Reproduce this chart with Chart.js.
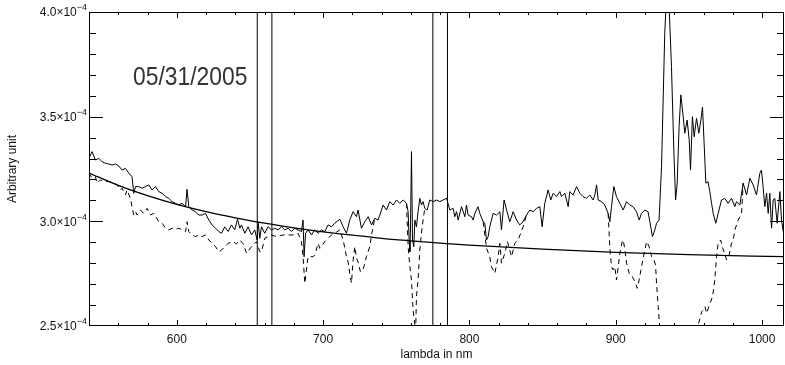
<!DOCTYPE html>
<html>
<head>
<meta charset="utf-8">
<script src="https://cdn.jsdelivr.net/npm/chart.js@4.4.1/dist/chart.umd.min.js"></script>
<style>
  html, body { margin: 0; padding: 0; background: #fff; }
</style>
</head>
<body>
<canvas id="spectrum" width="785" height="365"></canvas>
<script>
// wavelengths in nm, intensities in units of 1e-4 (axis labels carry the x10^-4)
const solidNm = [
  539.9, 542.1, 544.4, 546.7, 548.9, 551.3, 553.5, 555.8, 558.1, 560.4,
  562.6, 564.9, 567.2, 569.4, 570.6, 571.8, 574.0, 576.3, 578.6, 580.9,
  583.1, 585.4, 587.7, 590.0, 592.3, 594.5, 596.8, 599.1, 601.4, 603.6,
  606.0, 607.0, 608.2, 610.5, 612.8, 615.0, 617.3, 619.6, 621.9, 624.1,
  626.5, 628.7, 630.6, 632.8, 635.1, 637.4, 639.6, 641.5, 643.1, 644.2,
  646.5, 648.7, 651.1, 653.3, 654.9, 655.6, 656.7, 657.9, 660.1, 662.4,
  664.7, 667.0, 669.2, 671.6, 673.8, 676.1, 678.4, 680.7, 682.9, 685.2,
  686.3, 687.0, 688.0, 689.7, 692.1, 694.3, 696.6, 698.9, 701.2, 703.4,
  705.7, 708.0, 711.4, 713.7, 716.0, 718.2, 720.5, 722.8, 723.9, 726.2,
  728.5, 730.8, 733.1, 735.3, 737.6, 739.9, 741.0, 743.3, 745.6, 747.8,
  750.2, 752.4, 754.7, 757.0, 758.1, 758.8, 759.3, 759.7, 760.4, 761.1,
  762.0, 762.7, 763.8, 764.9, 766.1, 767.2, 768.3, 769.5, 771.1, 772.9,
  775.2, 777.5, 779.8, 782.0, 784.3, 785.4, 786.6, 788.9, 790.0, 791.2,
  792.3, 794.6, 796.9, 798.0, 799.1, 801.4, 802.5, 803.7, 805.9, 807.1,
  809.4, 810.5, 811.7, 812.8, 813.9, 816.2, 818.5, 820.8, 821.9, 823.7,
  825.4, 827.6, 829.9, 832.2, 834.4, 836.7, 839.0, 841.3, 843.5, 845.9,
  848.1, 849.7, 851.5, 853.8, 855.6, 857.2, 859.5, 861.8, 862.9, 865.2,
  867.5, 868.6, 870.9, 873.2, 875.5, 877.7, 880.0, 882.3, 884.5, 885.7,
  886.9, 888.0, 890.3, 892.5, 894.8, 896.0, 897.1, 898.7, 900.5, 902.8,
  905.1, 907.4, 909.6, 911.9, 914.2, 916.0, 917.6, 919.9, 922.1, 923.3,
  925.1, 926.7, 927.9, 929.6, 931.3, 932.4, 933.5, 934.6, 936.3, 938.1,
  939.7, 940.9, 942.0, 943.3, 944.5, 946.1, 947.2, 948.8, 950.2, 951.1,
  952.4, 953.6, 955.2, 956.8, 958.2, 959.3, 960.4, 961.6, 963.1, 964.3,
  965.5, 966.6, 968.4, 970.0, 972.3, 974.5, 976.8, 979.1, 981.4, 982.5,
  984.8, 987.1, 989.4, 991.7, 993.9, 996.2, 998.5, 999.6, 1000.7, 1001.9,
  1003.1, 1004.2, 1005.3, 1006.5, 1007.6, 1008.7, 1010.3, 1012.2, 1013.3, 1014.9,
  1016.3
];
const solidVal = [
  3.301, 3.333, 3.293, 3.301, 3.285, 3.277, 3.274, 3.269, 3.274, 3.264,
  3.245, 3.253, 3.230, 3.213, 3.134, 3.166, 3.166, 3.158, 3.166, 3.174,
  3.150, 3.166, 3.142, 3.134, 3.118, 3.110, 3.094, 3.086, 3.078, 3.086,
  3.070, 3.153, 3.070, 3.054, 3.046, 3.030, 3.030, 3.038, 3.006, 2.983,
  2.967, 2.951, 2.943, 2.974, 2.951, 2.983, 2.959, 3.010, 2.967, 2.983,
  2.943, 2.974, 2.935, 2.959, 2.911, 2.998, 2.919, 2.974, 2.943, 2.974,
  2.959, 2.967, 2.959, 2.974, 2.959, 2.967, 2.951, 2.967, 2.959, 2.951,
  3.006, 2.831, 2.943, 2.959, 2.935, 2.959, 2.943, 2.959, 2.951, 2.983,
  2.974, 2.991, 3.010, 2.974, 2.943, 3.006, 3.046, 3.022, 3.054, 2.967,
  2.998, 3.022, 2.983, 3.015, 3.006, 3.054, 3.078, 3.054, 3.094, 3.078,
  3.102, 3.086, 3.102, 3.086, 3.046, 2.911, 2.855, 2.959, 3.333, 2.911,
  2.879, 3.006, 2.974, 3.046, 3.110, 3.078, 3.094, 3.062, 3.054, 3.102,
  3.094, 3.102, 3.094, 3.102, 3.110, 3.086, 3.054, 3.062, 3.022, 3.046,
  3.006, 3.070, 3.022, 3.078, 3.030, 3.022, 3.006, 3.038, 3.070, 3.038,
  2.998, 2.991, 2.911, 2.927, 2.974, 3.038, 3.030, 3.046, 2.959, 3.102,
  3.054, 2.998, 3.046, 3.006, 2.983, 2.998, 3.030, 3.054, 3.046, 3.062,
  3.070, 2.974, 3.086, 3.150, 3.102, 3.134, 3.118, 3.142, 3.118, 3.134,
  3.070, 3.142, 3.126, 3.166, 3.134, 3.118, 3.110, 3.126, 3.102, 3.126,
  3.174, 3.102, 3.094, 3.078, 3.038, 2.998, 3.070, 3.166, 3.118, 3.086,
  3.054, 3.094, 3.078, 3.070, 3.046, 3.006, 3.038, 3.054, 3.046, 2.998,
  2.927, 2.959, 2.991, 3.006, 3.261, 3.580, 3.899, 4.060, 4.060, 3.739,
  3.341, 3.102, 3.182, 3.452, 3.604, 3.500, 3.421, 3.484, 3.389, 3.245,
  3.500, 3.404, 3.492, 3.421, 3.484, 3.545, 3.373, 3.182, 3.190, 3.142,
  3.086, 3.038, 2.991, 3.038, 3.102, 3.110, 3.086, 3.110, 3.070, 3.094,
  3.078, 3.182, 3.126, 3.206, 3.174, 3.126, 3.230, 3.245, 3.166, 3.070,
  3.134, 3.038, 3.134, 2.967, 3.102, 3.110, 2.991, 3.142, 3.006, 2.935,
  2.911
];

// dashed spectrum; null where it runs hidden under the solid one
const dashedNm = [
  539.9, 542.1, 544.4, 545.5, 547.8, 551.3, 553.5, 556.9, 559.2, 561.5,
  562.6, 564.9, 566.0, 568.3, 569.4, 570.6, 571.8, 572.9, 575.2, 577.4,
  579.7, 580.9, 582.0, 584.3, 587.7, 590.0, 592.3, 594.5, 596.8, 599.1,
  601.4, 603.6, 606.0, 607.0, 608.2, 610.5, 612.8, 615.0, 617.3, 619.6,
  621.9, 624.1, 626.5, 628.7, 630.6, 632.8, 635.1, 638.5, 640.8, 643.1,
  645.4, 647.7, 651.1, 654.5, 656.7, 657.9, 660.1, 664.7, 668.1, 672.7,
  679.5, 682.9, 685.2, 686.3, 687.5, 689.7, 693.2, 694.3, 696.6, 697.7,
  701.2, 705.7, 708.0, 711.4, 713.7, 716.0, 717.1, 718.2, 719.4, 720.5,
  721.7, 722.8, 723.9, 725.5, 727.3, 729.6, 731.9, 733.1, 735.3, 746.0,
  757.0, 758.1, 759.3, 760.4, 761.5, 762.7, 763.2, 763.8, 764.9, 766.1,
  767.2, 768.3, 769.5, 790.0, 809.4, 811.7, 813.9, 815.1, 817.4, 819.6,
  820.8, 821.9, 824.2, 826.0, 828.8, 831.0, 833.3, 836.7, 839.0, 860.0,
  894.8, 896.0, 897.1, 898.2, 899.4, 900.5, 901.7, 902.8, 904.4, 905.1,
  906.3, 907.4, 909.2, 910.8, 913.1, 914.7, 916.0, 917.6, 919.4, 921.1,
  922.8, 924.5, 926.1, 927.2, 927.9, 929.0, 929.7, 930.9, 935.0, 945.0,
  954.8, 956.4, 958.7, 959.8, 961.0, 962.1, 964.4, 966.2, 967.7, 968.9,
  970.0, 971.7, 973.5, 974.5, 975.7, 977.5, 979.1, 980.3, 981.4, 983.7,
  986.0, 987.1
];
const dashedVal = [
  3.230, 3.206, 3.213, 3.182, 3.198, 3.190, 3.190, 3.182, 3.174, 3.150,
  3.158, 3.126, 3.150, 3.110, 3.070, 3.030, 3.046, 3.030, 3.054, 3.038,
  3.062, 3.046, 3.030, 3.038, 2.998, 2.991, 2.967, 2.959, 2.967, 2.962,
  2.967, 2.959, 2.951, 2.998, 2.951, 2.935, 2.927, 2.935, 2.927, 2.935,
  2.911, 2.895, 2.879, 2.855, 2.863, 2.879, 2.895, 2.903, 2.892, 2.911,
  2.892, 2.847, 2.879, 2.903, 2.855, 2.855, 2.919, 2.935, 2.927, 2.935,
  2.935, 2.943, 2.903, 2.831, 2.704, 2.831, 2.831, 2.839, 2.895, 2.871,
  2.903, 2.935, 2.943, 2.959, 2.911, 2.831, 2.806, 2.752, 2.705, 2.815,
  2.879, 2.825, 2.806, 2.759, 2.768, 2.831, 2.879, 2.935, 3.015, null,
  3.086, 2.879, 2.783, 2.720, 2.576, 2.505, 2.457, 2.640, 2.720, 2.863,
  2.943, 3.006, 3.062, null, 2.998, 2.871, 2.831, 2.783, 2.752, 2.831,
  2.895, 2.800, 2.847, 2.903, 2.831, 2.895, 2.911, 2.974, 3.030, null,
  3.038, 2.871, 2.783, 2.768, 2.783, 2.720, 2.783, 2.847, 2.903, 2.911,
  2.863, 2.800, 2.752, 2.744, 2.712, 2.680, 2.720, 2.783, 2.847, 2.903,
  2.879, 2.831, 2.815, 2.791, 2.704, 2.592, 2.529, 2.409, 2.200, 2.150,
  2.433, 2.505, 2.568, 2.576, 2.592, 2.561, 2.608, 2.640, 2.720, 2.831,
  2.895, 2.911, 2.863, 2.847, 2.815, 2.839, 2.895, 2.911, 2.959, 3.006,
  3.038, 3.182
];

// smooth reference curve
const curveNm = [540, 560, 580, 600, 620, 640, 660, 680, 700, 720, 740, 760, 780, 800, 850, 900, 950, 1015];
const curveVal = [3.231, 3.172, 3.123, 3.081, 3.046, 3.017, 2.991, 2.969, 2.950, 2.934, 2.919, 2.907, 2.896, 2.886, 2.867, 2.852, 2.841, 2.831];

// vertical marker lines (nm)
const markerNm = [655, 665, 775, 785];

const xTicks = [600, 700, 800, 900, 1000];
const yTicks = [2.5, 3.0, 3.5, 4.0];
const dateLabel = "05/31/2005";

const toPoints = (xs, ys) => xs.map((v, i) => ({ x: v, y: ys[i] }));

const markerSets = markerNm.map((nm) => ({
  data: [{ x: nm, y: 2.5 }, { x: nm, y: 4.0 }],
  borderColor: "#000",
  borderWidth: 1,
}));

// IDL-style frame: inward ticks on all four sides, labels and titles
const framePlugin = {
  id: "frame",
  afterDraw(chart) {
    const { ctx, chartArea: a } = chart;
    const x = chart.scales.x;
    const y = chart.scales.y;
    ctx.save();
    ctx.strokeStyle = "#000";
    ctx.lineWidth = 1;
    ctx.strokeRect(a.left + 0.5, a.top + 0.5, a.right - a.left - 1, a.bottom - a.top - 1);

    ctx.beginPath();
    for (let t = 560; t <= 1000; t += 20) {
      const px = Math.round(x.getPixelForValue(t)) + 0.5;
      const len = t % 100 === 0 ? 6 : 3;
      ctx.moveTo(px, a.bottom);
      ctx.lineTo(px, a.bottom - len);
      ctx.moveTo(px, a.top);
      ctx.lineTo(px, a.top + len);
    }
    for (let i = 26; i <= 39; i++) {
      const py = Math.round(y.getPixelForValue(i / 10)) + 0.5;
      const len = i % 5 === 0 ? 14 : 7;
      ctx.moveTo(a.left, py);
      ctx.lineTo(a.left + len, py);
      ctx.moveTo(a.right, py);
      ctx.lineTo(a.right - len, py);
    }
    ctx.stroke();

    ctx.fillStyle = "#111";
    ctx.font = "12px 'Liberation Sans', Arial, sans-serif";
    ctx.textAlign = "center";
    ctx.textBaseline = "middle";
    xTicks.forEach((t) => {
      ctx.fillText(String(t), x.getPixelForValue(t), 340);
    });
    ctx.fillText("lambda in nm", (a.left + a.right) / 2, 355);

    yTicks.forEach((t) => {
      const py = y.getPixelForValue(t);
      ctx.font = "9px 'Liberation Sans', Arial, sans-serif";
      const sup = "\u22124";
      const supW = ctx.measureText(sup).width;
      ctx.textAlign = "right";
      ctx.fillText(sup, 87, py - 4);
      ctx.font = "12px 'Liberation Sans', Arial, sans-serif";
      ctx.fillText(t.toFixed(1) + "\u00d710", 87 - supW, py + 1);
    });

    ctx.save();
    ctx.translate(13, (a.top + a.bottom) / 2);
    ctx.rotate(-Math.PI / 2);
    ctx.textAlign = "center";
    ctx.fillText("Arbitrary unit", 0, 0);
    ctx.restore();

    ctx.save();
    ctx.translate(133, 85);
    ctx.scale(0.88, 1);
    ctx.font = "26px 'Liberation Sans', Arial, sans-serif";
    ctx.fillStyle = "#333";
    ctx.textAlign = "left";
    ctx.textBaseline = "alphabetic";
    ctx.fillText(dateLabel, 0, 0);
    ctx.restore();

    ctx.restore();
  },
};

const ctx = document.getElementById("spectrum").getContext("2d");
new Chart(ctx, {
  type: "line",
  data: {
    datasets: [
      ...markerSets,
      {
        data: toPoints(dashedNm, dashedVal),
        borderColor: "#000",
        borderWidth: 1,
        borderDash: [5, 4],
      },
      {
        data: toPoints(curveNm, curveVal),
        borderColor: "#000",
        borderWidth: 1.3,
        cubicInterpolationMode: "monotone",
      },
      {
        data: toPoints(solidNm, solidVal),
        borderColor: "#000",
        borderWidth: 1,
      },
    ],
  },
  options: {
    responsive: false,
    animation: false,
    devicePixelRatio: 1,
    layout: { padding: { left: 89, right: 1, top: 12, bottom: 39 } },
    elements: { point: { radius: 0 }, line: { tension: 0 } },
    scales: {
      x: { type: "linear", min: 540, max: 1015, display: false },
      y: { type: "linear", min: 2.5, max: 4.0, display: false },
    },
    plugins: { legend: { display: false }, tooltip: { enabled: false } },
  },
  plugins: [framePlugin],
});
</script>
</body>
</html>
